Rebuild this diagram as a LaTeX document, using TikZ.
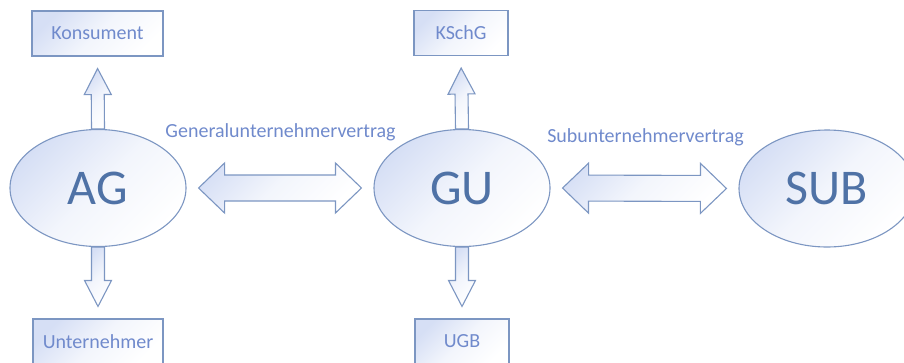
\documentclass[tikz,border=0pt]{standalone}
\usepackage{fontspec}
\setmainfont{Carlito}
\usetikzlibrary{calc,shapes.geometric}
\pgfdeclarelayer{background}
\pgfsetlayers{background,main}
\definecolor{lineblue}{RGB}{124,150,194}
\definecolor{shadeblue}{RGB}{214,223,245}
\definecolor{labelblue}{RGB}{112,138,204}
\definecolor{partyblue}{RGB}{79,114,166}

\begin{document}
\begin{tikzpicture}[x=1pt, y=-1pt,
  every node/.style={font=\fontsize{20}{24}\selectfont},
  softshade/.style={top color=shadeblue, bottom color=white,
    middle color=shadeblue!30!white, shading angle=45},
  lawbox/.style={draw=lineblue, line width=1.1pt, softshade,
    text=labelblue, inner sep=0pt, minimum height=45pt},
  party/.style={ellipse, draw=lineblue, line width=1.1pt, softshade,
    text=partyblue, inner sep=0pt,
    minimum width=176pt, minimum height=117pt,
    font=\fontsize{50}{60}\selectfont},
  contract/.style={text=labelblue, anchor=base},
  blkone/.style={draw=lineblue, line width=1.1pt, softshade,
    to path={
      ($(\tikztotarget)!12pt!(\tikztostart)$) coordinate (blktip)
      ($(blktip)!26pt!(\tikztostart)$) coordinate (blkbase)
      ($(\tikztostart)!6.5pt!90:(blktip)$) -- ($(blkbase)!6.5pt!90:(blktip)$)
      -- ($(blkbase)!13.5pt!90:(blktip)$) -- (blktip)
      -- ($(blkbase)!13.5pt!-90:(blktip)$) -- ($(blkbase)!6.5pt!-90:(blktip)$)
      -- ($(\tikztostart)!6.5pt!-90:(blktip)$) -- cycle}},
  blktwo/.style={draw=lineblue, line width=1.1pt, softshade,
    to path={
      ($(\tikztostart)!12pt!(\tikztotarget)$) coordinate (blka)
      ($(\tikztotarget)!12pt!(\tikztostart)$) coordinate (blkb)
      ($(blka)!26pt!(blkb)$) coordinate (blkha)
      ($(blkb)!26pt!(blka)$) coordinate (blkhb)
      (blka) -- ($(blkha)!25pt!90:(blkb)$) -- ($(blkha)!13pt!90:(blkb)$)
      -- ($(blkhb)!13pt!90:(blkb)$) -- ($(blkhb)!25pt!90:(blkb)$) -- (blkb)
      -- ($(blkhb)!25pt!-90:(blkb)$) -- ($(blkhb)!13pt!-90:(blkb)$)
      -- ($(blkha)!13pt!-90:(blkb)$) -- ($(blkha)!25pt!-90:(blkb)$) -- cycle}},
]
\useasboundingbox (0,0) rectangle (904,362);

\node[lawbox, minimum width=131pt] at ( 97.5, 33.5) (konsument)   {Konsument};
\node[lawbox, minimum width=94pt]  at (461.0, 33.0) (kschg)       {KSchG};
\node[lawbox, minimum width=130pt] at ( 98.0,341.5) (unternehmer) {Unternehmer};
\node[lawbox, minimum width=94pt]  at (462.0,341.5) (ugb)         {UGB};

\node[party] at ( 98.0,188.0) (ag)  {AG};
\node[party] at (462.0,188.0) (gu)  {GU};
\node[party] at (827.0,188.5) (sub) {SUB};

\node[contract] at (280.5,137.0) (gvertrag) {Generalunternehmervertrag};
\node[contract] at (645.5,142.0) (svertrag) {Subunternehmervertrag};

\begin{pgfonlayer}{background}
\draw[blkone] (ag.north) to (konsument.south);
\draw[blkone] (ag.south) to (unternehmer.north);
\draw[blkone] (gu.north) to (kschg.south);
\draw[blkone] (gu.south) to (ugb.north);
\draw[blktwo] (ag.east)  to (gu.west);
\draw[blktwo] (gu.east)  to (sub.west);
\end{pgfonlayer}
\end{tikzpicture}
\end{document}
